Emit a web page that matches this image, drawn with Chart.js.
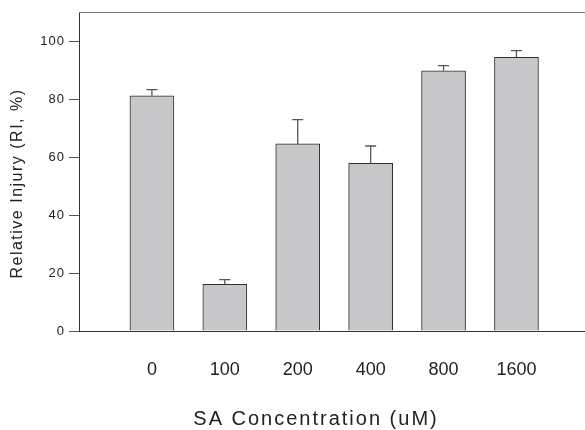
<!DOCTYPE html>
<html>
<head>
<meta charset="utf-8">
<script src="https://cdn.jsdelivr.net/npm/chart.js@4"></script>
<style>
    body { margin: 0; background: #fff; overflow: hidden; }
    canvas { display: block; }
</style>
</head>
<body>
<canvas id="riChart" width="585" height="430"></canvas>
<script>
// SA concentrations and relative injury
const categories = ['0', '100', '200', '400', '800', '1600'];
const riValues = [81.1, 16.1, 64.5, 57.8, 89.7, 94.4];
const riErrors = [2.1, 1.6, 8.4, 6.0, 1.8, 2.3];
const yTicks = [0, 20, 40, 60, 80, 100];

const fontFamily = '"Liberation Sans", Arial, sans-serif';

// Error bars on top of each bar (drawn with the chart's own scales)
const errorBarPlugin = {
    id: 'errorBars',
    afterDatasetsDraw(chart) {
        const ctx = chart.ctx;
        const xs = chart.scales.x, ys = chart.scales.y;
        ctx.save();
        ctx.strokeStyle = '#555';
        ctx.lineWidth = 1.3;
        riValues.forEach((v, i) => {
            const x = xs.getPixelForValue(i);
            const y0 = ys.getPixelForValue(v);
            const y1 = ys.getPixelForValue(v + riErrors[i]);
            ctx.beginPath();
            ctx.moveTo(x, y0);
            ctx.lineTo(x, y1);
            ctx.moveTo(x - 5.5, y1);
            ctx.lineTo(x + 5.5, y1);
            ctx.stroke();
        });
        ctx.restore();
    }
};

// Top frame line across the plot
const frameTopPlugin = {
    id: 'frameTop',
    afterDraw(chart) {
        const ctx = chart.ctx, area = chart.chartArea;
        ctx.save();
        ctx.strokeStyle = '#777';
        ctx.lineWidth = 1.2;
        ctx.beginPath();
        ctx.moveTo(area.left, area.top + 0.5);
        ctx.lineTo(chart.width, area.top + 0.5);
        ctx.stroke();
        ctx.restore();
    }
};

// Wide letter spacing like the original, plus small title shifts
const spacingPlugin = {
    id: 'spacing',
    beforeDraw(chart) {
        const cfg = {
            x: { ticks: '0px', title: '2px', dx: -16, dy: 0 },
            y: { ticks: '1px', title: '1.5px', dx: 0, dy: 12 }
        };
        Object.keys(cfg).forEach(id => {
            const scale = chart.scales[id];
            if (!scale || scale._spaced) return;
            scale._spaced = true;
            const c = cfg[id];
            const drawLabels = scale.drawLabels.bind(scale);
            const drawTitle = scale.drawTitle.bind(scale);
            scale.drawLabels = function(area) {
                chart.ctx.letterSpacing = c.ticks;
                drawLabels(area);
                chart.ctx.letterSpacing = '0px';
            };
            scale.drawTitle = function(area) {
                const ctx = chart.ctx;
                ctx.save();
                ctx.letterSpacing = c.title;
                ctx.translate(c.dx, c.dy);
                drawTitle(area);
                ctx.restore();
                ctx.letterSpacing = '0px';
            };
        });
    }
};

document.addEventListener('DOMContentLoaded', function() {
    const el = document.getElementById('riChart');
    new Chart(el, {
        type: 'bar',
        data: {
            datasets: [{
                data: categories.map((c, i) => ({ x: i, y: riValues[i] })),
                backgroundColor: '#c8c8ca',
                borderColor: '#2e2e2e',
                borderWidth: 1,
                barThickness: 44
            }]
        },
        options: {
            responsive: false,
            animation: false,
            layout: { padding: { top: 12, right: 0, bottom: 0, left: 0 } },
            plugins: {
                legend: { display: false },
                tooltip: { enabled: false }
            },
            scales: {
                x: {
                    type: 'linear',
                    offset: false,
                    min: -1,
                    max: 5.94,
                    afterBuildTicks: s => { s.ticks = categories.map((c, i) => ({ value: i })); },
                    afterFit: s => { s.height = 99; },
                    grid: { display: false },
                    border: { display: true, color: '#333', width: 1 },
                    ticks: {
                        callback: v => categories[v],
                        color: '#222',
                        padding: 20,
                        maxRotation: 0,
                        autoSkip: false,
                        font: { family: fontFamily, size: 18 }
                    },
                    title: {
                        display: true,
                        text: 'SA Concentration (uM)',
                        color: '#222',
                        padding: { top: 0, bottom: 0 },
                        font: { family: fontFamily, size: 20, lineHeight: 1.1 }
                    }
                },
                y: {
                    min: 0,
                    max: 110,
                    afterBuildTicks: s => { s.ticks = yTicks.map(v => ({ value: v })); },
                    afterFit: s => { s.width = 79; },
                    grid: {
                        display: true,
                        drawOnChartArea: false,
                        drawTicks: true,
                        tickLength: 10,
                        tickColor: '#555'
                    },
                    border: { display: true, color: '#333', width: 1 },
                    ticks: {
                        color: '#222',
                        padding: 4,
                        font: { family: fontFamily, size: 13 }
                    },
                    title: {
                        display: true,
                        text: 'Relative Injury (RI, %)',
                        color: '#222',
                        padding: { top: 8, bottom: 0 },
                        font: { family: fontFamily, size: 16, lineHeight: 1.2 }
                    }
                }
            }
        },
        plugins: [errorBarPlugin, frameTopPlugin, spacingPlugin]
    });
});
</script>
</body>
</html>
